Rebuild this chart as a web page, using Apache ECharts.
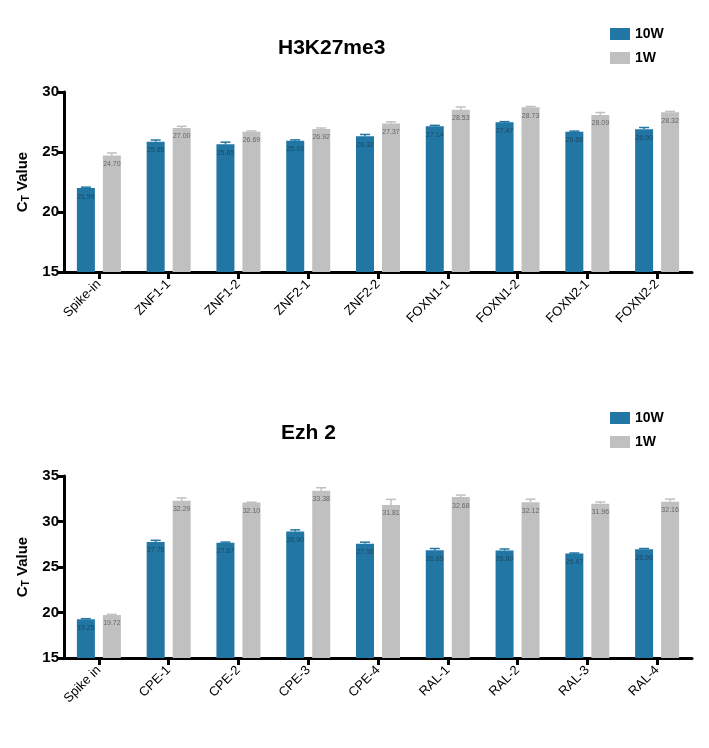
<!DOCTYPE html>
<html>
<head>
<meta charset="utf-8">
<script src="https://cdn.jsdelivr.net/npm/echarts@6/dist/echarts.min.js"></script>
<style>
html,body{margin:0;padding:0;background:#fff;}
#c{width:709px;height:748px;}
</style>
</head>
<body>
<div id="c"></div>
<script>
// ---- data ----
var seriesNames = ['10W', '1W'];
var topTitle = 'H3K27me3';
var botTitle = 'Ezh 2';
var topCats = ['Spike-in','ZNF1-1','ZNF1-2','ZNF2-1','ZNF2-2','FOXN1-1','FOXN1-2','FOXN2-1','FOXN2-2'];
var top10W = [21.99, 25.86, 25.65, 25.93, 26.32, 27.14, 27.47, 26.68, 26.90];
var top1W  = [24.70, 27.00, 26.69, 26.92, 27.37, 28.53, 28.73, 28.09, 28.32];
var top10WErr = [0.08, 0.14, 0.17, 0.08, 0.14, 0.08, 0.06, 0.06, 0.14];
var top1WErr  = [0.22, 0.14, 0.06, 0.08, 0.14, 0.22, 0.06, 0.20, 0.06];
var topTicks = [15, 20, 25, 30];

var botCats = ['Spike in','CPE-1','CPE-2','CPE-3','CPE-4','RAL-1','RAL-2','RAL-3','RAL-4'];
var bot10W = [19.25, 27.75, 27.67, 28.90, 27.55, 26.85, 26.80, 26.47, 26.96];
var bot1W  = [19.72, 32.29, 32.10, 33.38, 31.81, 32.68, 32.12, 31.96, 32.16];
var bot10WErr = [0.07, 0.18, 0.07, 0.18, 0.18, 0.18, 0.18, 0.07, 0.07];
var bot1WErr  = [0.07, 0.30, 0.02, 0.33, 0.62, 0.22, 0.33, 0.18, 0.30];
var botTicks = [15, 20, 25, 30, 35];

// ---- style ----
var FONT = 'Arial, "Liberation Sans", sans-serif';
var BLUE = '#2176a3';
var GRAY = '#c0c0c0';
var BAR_W = 18;
var BAR_GAP_PX = 8;
var OFFSET = (BAR_W + BAR_GAP_PX) / 2;

function yAxisFor(gridIndex, ticks) {
  return {
    type: 'value', gridIndex: gridIndex,
    min: ticks[0], max: ticks[ticks.length - 1], interval: 5,
    name: '{c|C}{s|T}{c| Value}',
    nameLocation: 'middle', nameRotate: 90, nameGap: 29,
    nameTextStyle: {
      rich: {
        c: {fontFamily: FONT, fontWeight: 'bold', fontSize: 15, color: '#000'},
        s: {fontFamily: FONT, fontWeight: 'bold', fontSize: 10, color: '#000', padding: [7, 0, 0, 0]}
      }
    },
    axisLine: {show: true, lineStyle: {color: '#000', width: 3}},
    axisTick: {show: true, length: 6, lineStyle: {color: '#000', width: 3}},
    axisLabel: {fontFamily: FONT, fontWeight: 'bold', fontSize: 15, color: '#000', margin: 5},
    splitLine: {show: false}
  };
}
function xAxisFor(gridIndex, cats) {
  return {
    type: 'category', gridIndex: gridIndex, data: cats,
    axisLine: {show: true, lineStyle: {color: '#000', width: 3}},
    axisTick: {show: true, alignWithLabel: true, length: 7, lineStyle: {color: '#000', width: 3}},
    axisLabel: {fontFamily: FONT, fontSize: 13, color: '#000', rotate: 45, margin: 10, interval: 0}
  };
}
function barSeries(name, gridIndex, data, color, labelColor) {
  return {
    type: 'bar', name: name, xAxisIndex: gridIndex, yAxisIndex: gridIndex,
    data: data, barWidth: BAR_W, barGap: (BAR_GAP_PX / BAR_W * 100) + '%',
    itemStyle: {color: color},
    label: {
      show: true, position: 'insideTop', distance: 5,
      fontFamily: FONT, fontSize: 7, color: labelColor,
      formatter: function (p) { return p.value.toFixed(2); }
    },
    z: 2
  };
}
function errSeries(name, gridIndex, vals, errs, color, shift) {
  var data = vals.map(function (v, i) { return [i, v, errs[i]]; });
  return {
    type: 'custom', name: name, xAxisIndex: gridIndex, yAxisIndex: gridIndex,
    data: data, z: 3, silent: true,
    renderItem: function (params, api) {
      var i = api.value(0), v = api.value(1), e = api.value(2);
      var p0 = api.coord([i, v]);
      var p1 = api.coord([i, v + e]);
      var x = p0[0] + shift;
      return {
        type: 'group',
        children: [
          {type: 'line', shape: {x1: x, y1: p0[1], x2: x, y2: p1[1]}, style: {stroke: color, lineWidth: 1.5}},
          {type: 'line', shape: {x1: x - 5, y1: p1[1], x2: x + 5, y2: p1[1]}, style: {stroke: color, lineWidth: 1.5}}
        ]
      };
    }
  };
}

var chart = echarts.init(document.getElementById('c'), null, {renderer: 'canvas'});
chart.setOption({
  animation: false,
  backgroundColor: '#fff',
  title: [
    {text: topTitle, left: 273, top: 33, textStyle: {fontFamily: FONT, fontWeight: 'bold', fontSize: 21, color: '#000'}},
    {text: botTitle, left: 276, top: 418, textStyle: {fontFamily: FONT, fontWeight: 'bold', fontSize: 21, color: '#000'}}
  ],
  legend: [
    {data: seriesNames, orient: 'vertical', left: 605, top: 22, itemWidth: 20, itemHeight: 12, itemGap: 10,
     icon: 'rect', textStyle: {fontFamily: FONT, fontWeight: 'bold', fontSize: 14, color: '#000'}},
    {data: seriesNames, orient: 'vertical', left: 605, top: 406, itemWidth: 20, itemHeight: 12, itemGap: 10,
     icon: 'rect', textStyle: {fontFamily: FONT, fontWeight: 'bold', fontSize: 14, color: '#000'}}
  ],
  grid: [
    {left: 64, right: 17, top: 92, height: 180},
    {left: 64, right: 17, top: 476, height: 182}
  ],
  xAxis: [xAxisFor(0, topCats), xAxisFor(1, botCats)],
  yAxis: [yAxisFor(0, topTicks), yAxisFor(1, botTicks)],
  series: [
    barSeries(seriesNames[0], 0, top10W, BLUE, '#1b4a66'),
    barSeries(seriesNames[1], 0, top1W, GRAY, '#666'),
    errSeries(seriesNames[0], 0, top10W, top10WErr, BLUE, -OFFSET),
    errSeries(seriesNames[1], 0, top1W, top1WErr, GRAY, OFFSET),
    barSeries(seriesNames[0], 1, bot10W, BLUE, '#1b4a66'),
    barSeries(seriesNames[1], 1, bot1W, GRAY, '#666'),
    errSeries(seriesNames[0], 1, bot10W, bot10WErr, BLUE, -OFFSET),
    errSeries(seriesNames[1], 1, bot1W, bot1WErr, GRAY, OFFSET)
  ]
});
</script>
</body>
</html>
